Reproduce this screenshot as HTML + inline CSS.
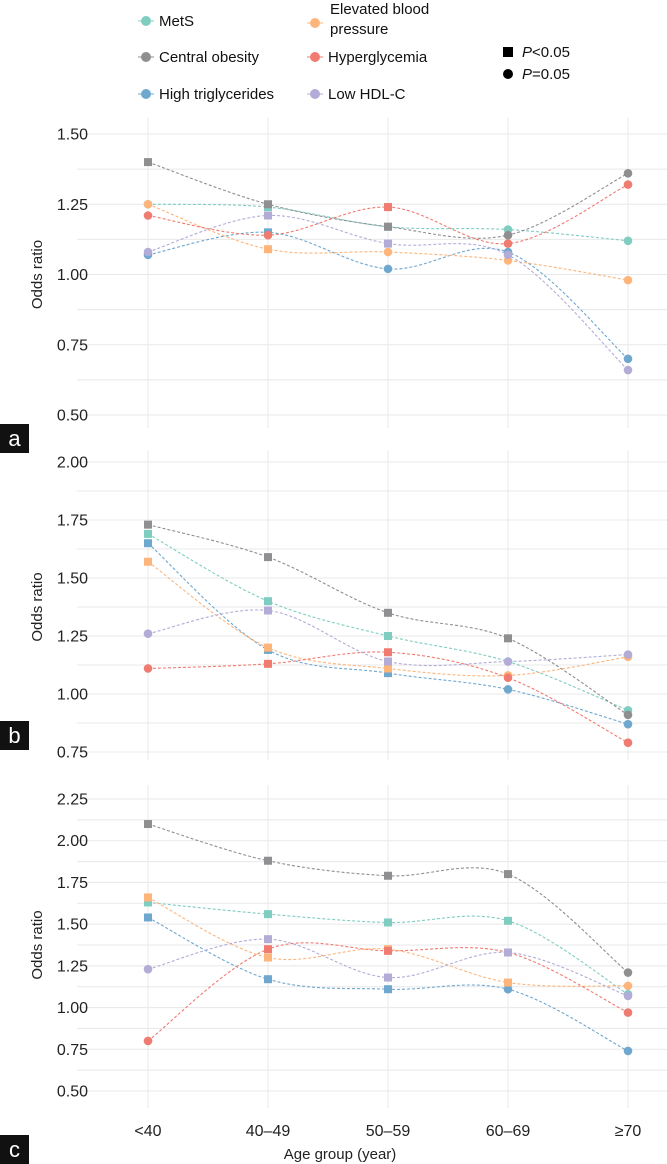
<!DOCTYPE html>
<html><head><meta charset="utf-8"><style>
body{margin:0;background:#fff;}
svg{display:block;font-family:"Liberation Sans",Arial,sans-serif;}
</style></head><body>
<svg id="fig" width="667" height="1164" viewBox="0 0 667 1164">
<g id="legend"></g>
<g id="panels"></g>
<text x="340" y="1159" font-size="15" text-anchor="middle" fill="#222">Age group (year)</text>
</svg>
<script>
const categories = ["<40","40–49","50–59","60–69","≥70"];
const seriesNames = ["MetS","Central obesity","High triglycerides","Elevated blood pressure","Hyperglycemia","Low HDL-C"];
const seriesColors = ["#7fcdc1","#8f8f91","#6fa8cf","#fdb57b","#f07b70","#b2acd7"];
// panel a
const aMetS=[1.25,1.24,1.17,1.16,1.12], aCO=[1.40,1.25,1.17,1.14,1.36], aTG=[1.07,1.15,1.02,1.08,0.70], aBP=[1.25,1.09,1.08,1.05,0.98], aHG=[1.21,1.14,1.24,1.11,1.32], aHDL=[1.08,1.21,1.11,1.07,0.66];
const aSig=[[0,1,1,0,0],[1,1,1,0,0],[0,1,0,0,0],[0,1,0,0,0],[0,0,1,0,0],[0,1,1,0,0]];
const aTicks=[0.50,0.75,1.00,1.25,1.50];
// panel b
const bMetS=[1.69,1.40,1.25,1.14,0.93], bCO=[1.73,1.59,1.35,1.24,0.91], bTG=[1.65,1.19,1.09,1.02,0.87], bBP=[1.57,1.20,1.11,1.08,1.16], bHG=[1.11,1.13,1.18,1.07,0.79], bHDL=[1.26,1.36,1.14,1.14,1.17];
const bSig=[[1,1,1,0,0],[1,1,1,1,0],[1,1,1,0,0],[1,1,1,0,0],[0,1,1,0,0],[0,1,1,0,0]];
const bTicks=[0.75,1.00,1.25,1.50,1.75,2.00];
// panel c
const cMetS=[1.63,1.56,1.51,1.52,1.08], cCO=[2.10,1.88,1.79,1.80,1.21], cTG=[1.54,1.17,1.11,1.11,0.74], cBP=[1.66,1.30,1.35,1.15,1.13], cHG=[0.80,1.35,1.34,1.33,0.97], cHDL=[1.23,1.41,1.18,1.33,1.07];
const cSig=[[1,1,1,1,0],[1,1,1,1,0],[1,1,1,0,0],[1,1,1,1,0],[0,1,1,1,0],[0,1,1,1,0]];
const cTicks=[0.50,0.75,1.00,1.25,1.50,1.75,2.00,2.25];

const NS="http://www.w3.org/2000/svg";
function mk(tag,attrs,parent){const e=document.createElementNS(NS,tag);for(const k in attrs)e.setAttribute(k,attrs[k]);parent.appendChild(e);return e;}
const xPos=i=>148+i*120;

const panels=[
 {label:"a",series:[aMetS,aCO,aTG,aBP,aHG,aHDL],sig:aSig,ticks:aTicks,ymin:0.5,ymax:1.5,top:134,bot:415,gTop:118,gBot:428,lab:[424,453]},
 {label:"b",series:[bMetS,bCO,bTG,bBP,bHG,bHDL],sig:bSig,ticks:bTicks,ymin:0.75,ymax:2.0,top:462,bot:752,gTop:450,gBot:760,lab:[721,750]},
 {label:"c",series:[cMetS,cCO,cTG,cBP,cHG,cHDL],sig:cSig,ticks:cTicks,ymin:0.5,ymax:2.25,top:799,bot:1091,gTop:785,gBot:1108,lab:[1135,1164]}
];
const root=document.getElementById('panels');
panels.forEach(p=>{
  const g=mk('g',{},root);
  
  
  const y=v=>p.bot-(v-p.ymin)/(p.ymax-p.ymin)*(p.bot-p.top);
  const step=p.ticks[1]-p.ticks[0];
  for(let v=p.ymin;v<=p.ymax+step*0.6;v+=step/2){
    const yy=y(v); if(yy<p.gTop-2)continue;
    const l=mk('line',{x1:77,x2:667,y1:yy,y2:yy,stroke:"#e8e8e8","stroke-width":1},g);
     
  }
  categories.forEach((c,i)=>{
    const l=mk('line',{x1:xPos(i),x2:xPos(i),y1:p.gTop,y2:p.gBot,stroke:"#e8e8e8","stroke-width":1},g);
     
  });
  p.ticks.forEach(t=>{
    const tx=mk('text',{x:88,y:y(t)+5.5,"font-size":16,"text-anchor":"end",fill:"#222"},g);
    tx.textContent=t.toFixed(2);
     
  });
  const cy=(p.top+p.bot)/2;
  const yt=mk('text',{x:42,y:cy,"font-size":15,"text-anchor":"middle",fill:"#222",transform:`rotate(-90 42 ${cy})`},g);
  yt.textContent="Odds ratio";
   
  const lb=mk('rect',{x:0,y:p.lab[0],width:29,height:p.lab[1]-p.lab[0],fill:"#111"},g);
   
  const lt=mk('text',{x:14.5,y:p.lab[1]-7,"font-size":22,"text-anchor":"middle",fill:"#fff"},g);
  lt.textContent=p.label;
   
  p.series.forEach((vals,si)=>{
    const pts=vals.map((v,i)=>[xPos(i),y(v)]);
    let d=`M${pts[0][0]},${pts[0][1]}`;
    for(let i=0;i<pts.length-1;i++){
      const p0=pts[Math.max(i-1,0)],p1=pts[i],p2=pts[i+1],p3=pts[Math.min(i+2,pts.length-1)];
      const t=0.5/3;
      d+=` C${p1[0]+(p2[0]-p0[0])*t},${p1[1]+(p2[1]-p0[1])*t} ${p2[0]-(p3[0]-p1[0])*t},${p2[1]-(p3[1]-p1[1])*t} ${p2[0]},${p2[1]}`;
    }
    const path=mk('path',{d:d,fill:"none",stroke:seriesColors[si],"stroke-width":1.1,"stroke-dasharray":"3 2"},g);
    
    
    pts.forEach((pt,i)=>{
      let m;
      if(p.sig[si][i]) m=mk('rect',{x:pt[0]-4,y:pt[1]-4,width:8,height:8,fill:seriesColors[si]},g);
      else m=mk('circle',{cx:pt[0],cy:pt[1],r:4.3,fill:seriesColors[si]},g);
      
      
    });
  });
  if(p.label==="c"){
    categories.forEach((c,i)=>{
      const t=mk('text',{x:xPos(i),y:1136,"font-size":16,"text-anchor":"middle",fill:"#222"},g);
      t.textContent=c;
       
    });
  }
});
// legend
const lg=document.getElementById('legend');
const legPos=[[146,21],[146,57],[146,94],[315,23],[315,57],[315,94]];
seriesNames.forEach((n,i)=>{
  const [x,yy]=legPos[i];
  const g=mk('g',{},lg);
   
  mk('line',{x1:x-8,x2:x+8,y1:yy,y2:yy,stroke:seriesColors[i],"stroke-width":1},g);
  mk('circle',{cx:x,cy:yy,r:5,fill:seriesColors[i]},g);
  if(i===3){
    const t1=mk('text',{x:x+15,y:14,"font-size":15,fill:"#111"},g); t1.textContent="Elevated blood";
    const t2=mk('text',{x:x+15,y:34,"font-size":15,fill:"#111"},g); t2.textContent="pressure";
  } else {
    const t=mk('text',{x:x+13,y:yy+5,"font-size":15,fill:"#111"},g); t.textContent=n;
  }
});
const pg=mk('g',{},lg);
 
mk('rect',{x:503,y:47,width:10,height:10,fill:"#000"},pg);
mk('circle',{cx:508,cy:74,r:5,fill:"#000"},pg);
const s1=mk('text',{x:522,y:57,"font-size":15,fill:"#111"},pg); s1.innerHTML='<tspan font-style="italic">P</tspan>&lt;0.05';
const s2=mk('text',{x:522,y:79,"font-size":15,fill:"#111"},pg); s2.innerHTML='<tspan font-style="italic">P</tspan>=0.05';
</script>
</body></html>
